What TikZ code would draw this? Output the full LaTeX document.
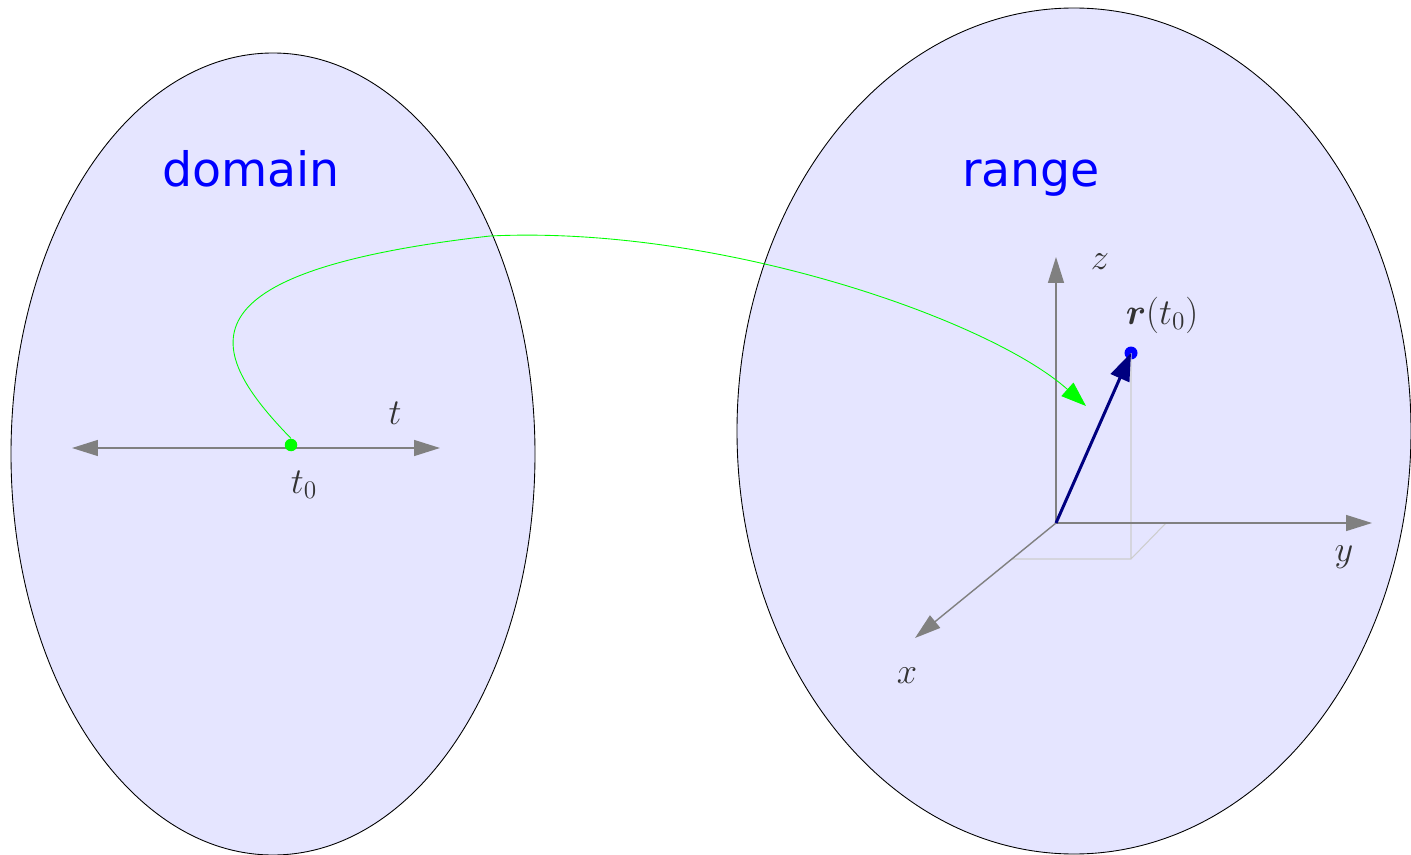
\documentclass[tikz,border=0pt]{standalone}
\usepackage{fontspec}
\usepackage{bm}
\usetikzlibrary{arrows.meta}
\newfontfamily\labelfont{DejaVu Sans}
\definecolor{setfill}{RGB}{229,229,255}
\definecolor{axisgray}{RGB}{128,128,128}
\definecolor{boxgray}{RGB}{205,205,205}
\definecolor{labelgray}{RGB}{51,51,51}
\definecolor{vecnavy}{RGB}{0,0,128}

\begin{document}
\begin{tikzpicture}[x=0.02cm, y=0.02cm,
  setshape/.style={fill=setfill, draw=black, line width=0.5pt},
  setname/.style={text=blue, anchor=base, font=\labelfont\fontsize{27}{30}\selectfont},
  axis/.style={draw=axisgray, line width=0.8pt},
  axistip/.style={-{Triangle[length=0.52cm, width=0.32cm]}},
  axislabel/.style={text=labelgray, font=\fontsize{20}{22}\selectfont, inner sep=0pt},
  dot/.style={circle, inner sep=0pt, minimum size=0.25cm}]

\useasboundingbox (0,0) rectangle (1411,-855);

% the two sets
\draw[setshape] (273,-454) ellipse [x radius=262, y radius=401];
\draw[setshape] (1074,-431) ellipse [x radius=337, y radius=423];
\node[setname] (dom) at (251,-187) {domain};
\node[setname] (ran) at (1031,-187) {range};

% domain: the t line
\coordinate (tL) at (72,-448);
\coordinate (tR) at (440,-448);
\draw[axis, {Triangle[length=0.52cm, width=0.32cm]}-{Triangle[length=0.52cm, width=0.32cm]}] (tL) -- (tR);
\node[dot, fill=green] (t0) at (291,-445) {};
\node[axislabel] (tlab) at (395,-413) {$t$};
\node[axislabel] (t0lab) at (304,-485) {$t_0$};

% range: the axes
\coordinate (O) at (1056,-523);
\coordinate (zEnd) at (1056,-257);
\coordinate (yEnd) at (1372,-523);
\coordinate (xEnd) at (915,-638);
\node[dot, fill=blue, minimum size=0.26cm] (rP) at (1131,-353) {};
\coordinate (rFoot) at (1131,-559);
\coordinate (rX) at (1012,-559);
\coordinate (rY) at (1166,-523);
\draw[boxgray, line width=0.6pt] (rP.center) -- (rFoot) (rX) -- (rFoot) -- (rY);
\draw[axis, axistip] (O) -- (zEnd);
\draw[axis, axistip] (O) -- (yEnd);
\draw[axis, axistip] (O) -- (xEnd);
\node[axislabel] (zlab) at (1100,-262) {$z$};
\node[axislabel] (ylab) at (1344,-557) {$y$};
\node[axislabel] (xlab) at (907,-676) {$x$};
\draw[vecnavy, line width=1.7pt, -{Triangle[length=0.55cm, width=0.4cm]}] (O) -- (rP.center);
\node[axislabel] (rlab) at (1162,-315) {$\bm{r}(t_0)$};

% the map
\coordinate (mapEnd) at (1086,-406);
\draw[green, line width=0.5pt, -{Triangle[length=0.5cm, width=0.36cm]}]
  (t0.north) .. controls (205,-350) and (175,-272) .. (490,-236)
  .. controls (720,-225) and (990,-320) .. (mapEnd);

\end{tikzpicture}
\end{document}
